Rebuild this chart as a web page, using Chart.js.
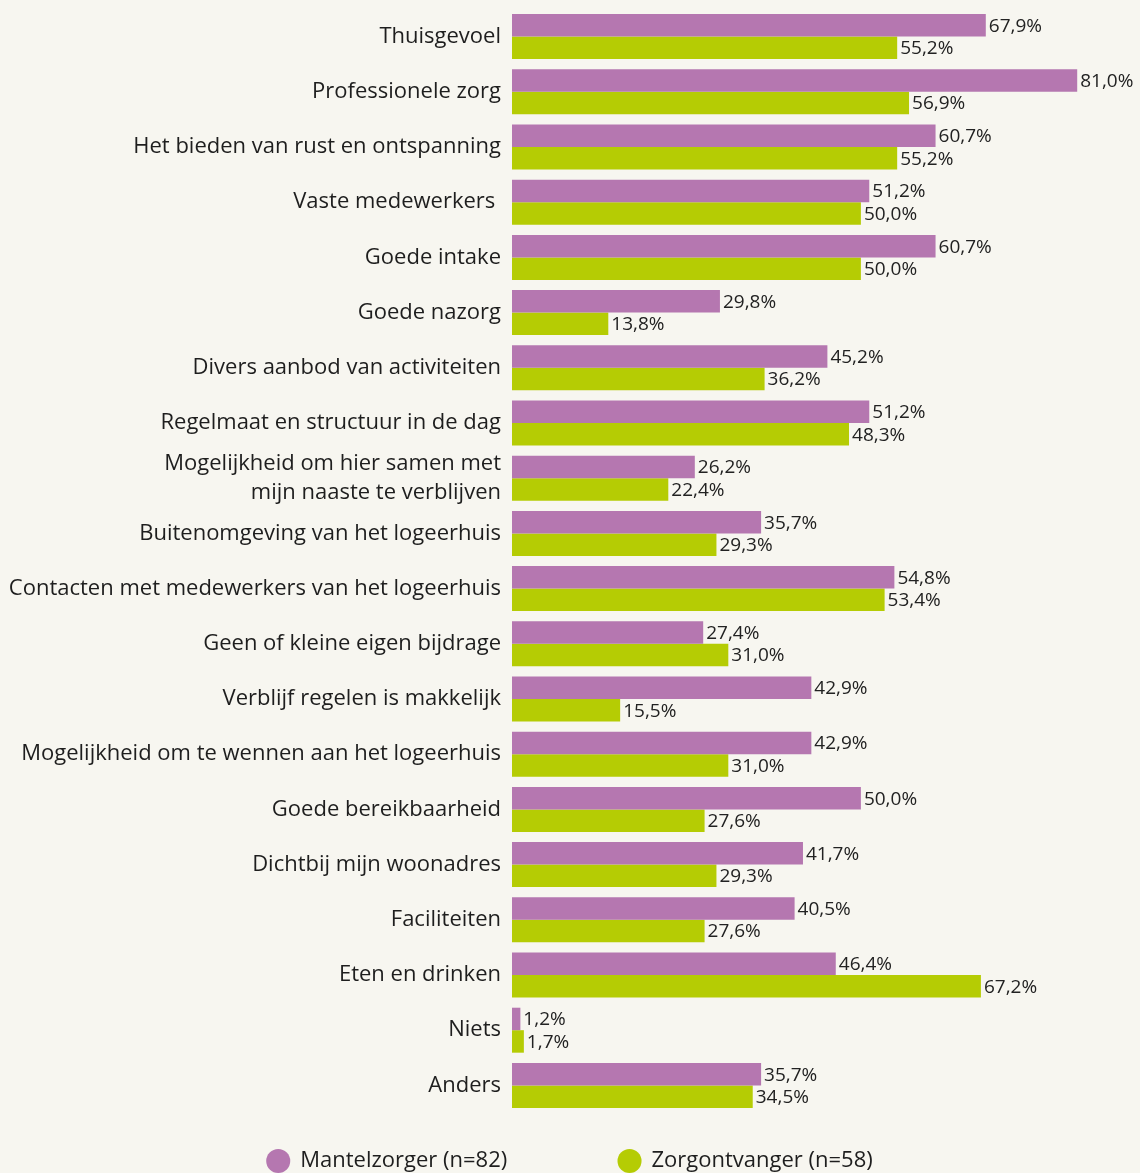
<!DOCTYPE html>
<html>
<head>
<meta charset="utf-8">
<script src="https://cdn.jsdelivr.net/npm/chart.js@4"></script>
<style>
    html, body { margin: 0; padding: 0; background: #f7f6f0; overflow: hidden; }
    #wrap { width: 1140px; height: 1182px; position: relative; }
</style>
</head>
<body>
<div id="wrap"><canvas id="chart"></canvas></div>
<script>
const categories = [
    'Thuisgevoel',
    'Professionele zorg',
    'Het bieden van rust en ontspanning',
    'Vaste medewerkers ',
    'Goede intake',
    'Goede nazorg',
    'Divers aanbod van activiteiten',
    'Regelmaat en structuur in de dag',
    ['Mogelijkheid om hier samen met', 'mijn naaste te verblijven'],
    'Buitenomgeving van het logeerhuis',
    'Contacten met medewerkers van het logeerhuis',
    'Geen of kleine eigen bijdrage',
    'Verblijf regelen is makkelijk',
    'Mogelijkheid om te wennen aan het logeerhuis',
    'Goede bereikbaarheid',
    'Dichtbij mijn woonadres',
    'Faciliteiten',
    'Eten en drinken',
    'Niets',
    'Anders'
];
const mantelzorger = [67.9, 81.0, 60.7, 51.2, 60.7, 29.8, 45.2, 51.2, 26.2, 35.7, 54.8, 27.4, 42.9, 42.9, 50.0, 41.7, 40.5, 46.4, 1.2, 35.7];
const zorgontvanger = [55.2, 56.9, 55.2, 50.0, 50.0, 13.8, 36.2, 48.3, 22.4, 29.3, 53.4, 31.0, 15.5, 31.0, 27.6, 29.3, 27.6, 67.2, 1.7, 34.5];
const seriesNames = ['Mantelzorger (n=82)', 'Zorgontvanger (n=58)'];

const PURPLE = '#b577b0';
const GREEN = '#b5cc04';
const FONT = "'Open Sans', sans-serif";

// draws "67,9%" right after each bar
const valueLabels = {
    id: 'valueLabels',
    afterDatasetsDraw(chart) {
        const ctx = chart.ctx;
        ctx.save();
        ctx.font = '19px ' + FONT;
        ctx.fillStyle = '#222';
        ctx.textBaseline = 'middle';
        ctx.textAlign = 'left';
        chart.data.datasets.forEach((ds, i) => {
            chart.getDatasetMeta(i).data.forEach((bar, j) => {
                const txt = ds.data[j].toFixed(1).replace('.', ',') + '%';
                ctx.fillText(txt, bar.x + 3, bar.y + 1);
            });
        });
        ctx.restore();
    }
};

new Chart(document.getElementById('chart'), {
    type: 'bar',
    data: {
        labels: categories,
        datasets: [{
            label: seriesNames[0],
            data: mantelzorger,
            backgroundColor: PURPLE,
            barPercentage: 1,
            categoryPercentage: 0.815
        }, {
            label: seriesNames[1],
            data: zorgontvanger,
            backgroundColor: GREEN,
            barPercentage: 1,
            categoryPercentage: 0.815
        }]
    },
    options: {
        indexAxis: 'y',
        responsive: true,
        maintainAspectRatio: false,
        animation: false,
        layout: {
            padding: {top: 9, right: 0, left: 0, bottom: 0}
        },
        scales: {
            x: {
                display: false,
                min: 0,
                max: 90
            },
            y: {
                grid: {display: false, drawTicks: false},
                border: {display: false},
                ticks: {
                    font: {family: FONT, size: 22, lineHeight: 1.3},
                    color: '#1e1e1e',
                    padding: 11,
                    autoSkip: false
                },
                afterFit(scale) {
                    // fixed label column, no extra room above/below for the labels
                    scale.width = 512;
                    scale.paddingTop = 0;
                    scale.paddingBottom = 0;
                }
            }
        },
        plugins: {
            tooltip: {enabled: false},
            legend: {
                position: 'bottom',
                labels: {
                    usePointStyle: true,
                    pointStyle: 'circle',
                    boxWidth: 22,
                    boxHeight: 17,
                    padding: 37,
                    color: '#1e1e1e',
                    font: {family: FONT, size: 22},
                    generateLabels(chart) {
                        const items = Chart.defaults.plugins.legend.labels.generateLabels(chart);
                        // wider gap between the two legend entries
                        items[0].text = items[0].text + '             ';
                        return items;
                    }
                }
            }
        }
    },
    plugins: [valueLabels]
});
</script>
</body>
</html>
